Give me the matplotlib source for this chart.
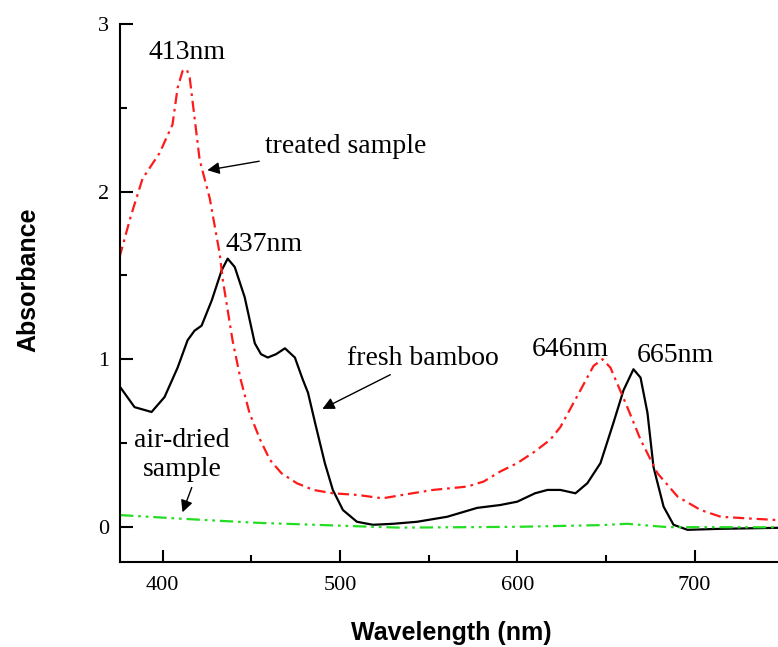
import matplotlib
matplotlib.use("Agg")
import matplotlib.pyplot as plt
from matplotlib.ticker import MultipleLocator

# Spectra
fresh_x = [376, 384.2, 393.8, 401.1, 408.5, 414.1, 418, 422, 427.7, 433.3, 436.7,
           440.7, 446.3, 452, 455.5, 459.3, 464, 469, 474.6, 479, 482, 486, 491.5,
           496, 501.7, 509.6, 518.6, 530, 543.5, 560.5, 577.4, 590.4, 600, 610, 617,
           624.3, 632.8, 639.5, 646.9, 654.2, 659.9, 665.5, 669.5, 673.4, 676.8,
           682.5, 688.1, 696, 714.7, 747]
fresh_y = [0.835, 0.714, 0.685, 0.774, 0.95, 1.113, 1.17, 1.20, 1.35, 1.53, 1.60,
           1.55, 1.37, 1.095, 1.03, 1.01, 1.03, 1.065, 1.01, 0.88, 0.80, 0.62, 0.38,
           0.22, 0.10, 0.03, 0.012, 0.018, 0.03, 0.06, 0.113, 0.13, 0.15, 0.20, 0.22,
           0.22, 0.20, 0.26, 0.38, 0.62, 0.815, 0.94, 0.89, 0.68, 0.357, 0.12, 0.012,
           -0.018, -0.012, -0.006]

treated_x = [375.7, 382, 388.7, 398.3, 405.6, 408.5, 411.3, 413.6, 415.3, 420.9,
             426.6, 432.2, 434, 439.5, 444, 449, 455, 460.5, 467, 475.7, 485, 496,
             510, 524, 538, 552.5, 571.8, 581, 590.4, 600, 610, 618.6, 624.3, 635.6,
             643, 648, 652.5, 662, 669.5, 679, 690.4, 703.4, 714.7, 730, 747]
treated_y = [1.607, 1.85, 2.077, 2.23, 2.40, 2.62, 2.72, 2.73, 2.68, 2.19, 1.96,
             1.63, 1.47, 1.11, 0.88, 0.68, 0.52, 0.40, 0.32, 0.26, 0.22, 0.20, 0.19,
             0.17, 0.195, 0.22, 0.24, 0.27, 0.33, 0.38, 0.45, 0.52, 0.595, 0.815,
             0.96, 1.0, 0.95, 0.715, 0.52, 0.32, 0.18, 0.10, 0.06, 0.05, 0.04]

dried_x = [376, 411, 453, 518.6, 534, 600, 647, 662, 684.7, 747]
dried_y = [0.07, 0.048, 0.024, 0.0, -0.005, 0.0, 0.01, 0.018, -0.002, -0.003]

peak_labels = ["413nm", "437nm", "646nm", "665nm"]
peak_pos = [(414, 2.83), (457, 1.685), (630, 1.06), (689, 1.02)]

serif = "Liberation Serif"

fig = plt.figure(figsize=(7.78, 6.47), dpi=100)
ax = fig.add_axes([120 / 778, 85 / 647, 658 / 778, 538 / 647])

ax.plot(fresh_x, fresh_y, color="black", lw=1.6, solid_joinstyle="round")
ax.plot(treated_x, treated_y, color="#ff1a1a", lw=1.6, linestyle=(0, (5, 2.2, 1.2, 2.2)))
ax.plot(dried_x, dried_y, color="#22dd22", lw=1.6,
        linestyle=(0, (6, 2.2, 1.2, 2.2, 1.2, 2.2)))

ax.set_xlim(376, 747)
ax.set_ylim(-0.21, 3)
ax.xaxis.set_major_locator(MultipleLocator(100))
ax.xaxis.set_minor_locator(MultipleLocator(50))
ax.yaxis.set_major_locator(MultipleLocator(1))
ax.yaxis.set_minor_locator(MultipleLocator(0.5))

for s in ["top", "right"]:
    ax.spines[s].set_visible(False)
ax.spines["left"].set_bounds(-0.21, 3)
for s in ["left", "bottom"]:
    ax.spines[s].set_linewidth(1.5)

ax.tick_params(which="major", direction="in", length=9, width=1.5, labelsize=16, pad=8)
ax.tick_params(which="minor", direction="in", length=5, width=1.5)
ax.tick_params(axis="x", which="major", pad=10)
for lab in ax.get_xticklabels() + ax.get_yticklabels():
    lab.set_fontfamily(serif)

ax.set_xlabel("Wavelength (nm)", fontsize=18, fontweight="bold",
              family="Liberation Sans")
ax.xaxis.set_label_coords((451 - 120) / 658, -(633 - 562) / 538)
ax.xaxis.label.set_va("center")
ax.set_ylabel("Absorbance", fontsize=18, fontweight="bold", family="Liberation Sans")
ax.yaxis.set_label_coords(-(120 - 28) / 658, (562 - 280) / 538)
ax.yaxis.label.set_va("center")

for lab, (px, py) in zip(peak_labels, peak_pos):
    ax.text(px, py, lab, fontsize=20, family=serif, ha="center", va="center")

arrow = dict(arrowstyle="-|>", color="black", lw=1.0, mutation_scale=18)
ax.annotate("treated sample", xy=(423.7, 2.125), xytext=(457.6, 2.27),
            fontsize=20, family=serif, ha="left", va="center", arrowprops=arrow)
ax.annotate("fresh bamboo", xy=(488.7, 0.696), xytext=(546.9, 1.006),
            fontsize=20, family=serif, ha="center", va="center", arrowprops=arrow)
ax.text(411, 0.43, "air-dried\nsample", fontsize=20, family=serif,
        ha="center", va="center", linespacing=1.2)
ax.annotate("", xy=(410.7, 0.071), xytext=(417, 0.25), arrowprops=arrow)

fig.savefig("out.png", dpi=100)
